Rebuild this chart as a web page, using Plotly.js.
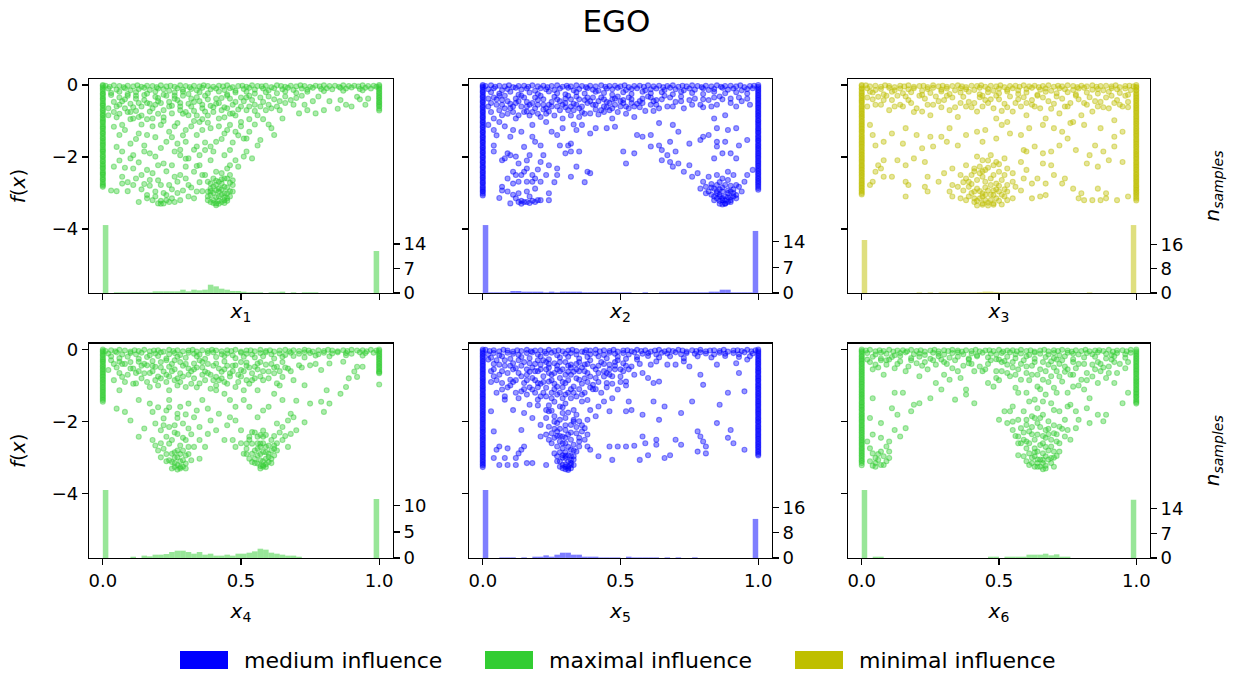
<!DOCTYPE html>
<html><head><meta charset="utf-8">
<script src="https://cdn.plot.ly/plotly-3.0.1.min.js"></script>
<style>body{margin:0;background:#fff}#chart{width:1233px;height:675px}</style>
</head><body><div id="chart"></div>
<script>
// ---------- labels ----------
const chartTitle = 'EGO';
const dimLabels = ['1','2','3','4','5','6'];
const influence = ['maximal','medium','minimal','maximal','medium','maximal'];
const legendNames = ['medium influence','maximal influence','minimal influence'];
const fTicks = [0, -2, -4];
const histTicks = [[0,7,14],[0,7,14],[0,8,16],[0,5,10],[0,8,16],[0,7,14]];

// ---------- histogram heights (50 bins on [0,1]) ----------
const h1 = [19.4,0,0.19,0.19,0.19,0.19,0.19,0.19,0.19,0.47,0.47,0.47,0.47,0.47,0.95,0.47,0.95,0.76,0.95,2.37,1.9,1.23,0.95,0.57,0.57,0.38,0.19,0.19,0.19,0,0.19,0.19,0.38,0,0.19,0,0.19,0.19,0.19,0,0,0,0,0,0,0,0,0,0,12.0];
const h2 = [18.5,0.18,0.18,0.18,0.18,0.54,0.54,0.36,0.36,0.36,0.36,0.18,0.36,0.18,0.36,0.36,0.36,0.36,0.18,0.18,0.18,0.18,0.18,0.18,0.18,0.18,0.18,0,0,0.18,0,0,0.18,0.18,0.18,0.18,0.18,0.18,0.18,0.18,0.18,0.36,0.36,0.9,0.9,0.18,0.18,0.18,0.18,16.9];
const h3 = [17.4,0,0,0,0,0,0,0,0,0,0.2,0,0.2,0,0.2,0.2,0.2,0.2,0.2,0.2,0.2,0.3,0.45,0.45,0.3,0.2,0.2,0.2,0.2,0.2,0.2,0.2,0.2,0.2,0.2,0.2,0.2,0.2,0,0,0,0.2,0,0,0,0,0,0,0,22.3];
const h4 = [13.05,0,0,0,0,0.25,0,0.45,0.32,0.64,0.64,0.76,1.15,1.4,1.4,1.15,0.83,1.15,0.64,0.83,0.45,0.45,0.64,0.45,0.83,0.83,1.02,1.27,1.78,1.6,1.02,0.83,0.64,0.45,0.45,0.25,0,0,0,0,0,0,0,0,0,0,0,0,0,11.3];
const h5 = [21.6,0,0,0.19,0.19,0.19,0,0.19,0,0.42,0.42,0.84,0.42,1.05,1.68,1.68,1.05,1.05,0.42,0.42,0.42,0.19,0.19,0.19,0.19,0,0.42,0.19,0.19,0.19,0.19,0.19,0,0.19,0,0.19,0,0,0.19,0,0,0,0,0,0,0,0,0,0,12.4];
const h6 = [19.4,0,0.38,0.38,0,0,0,0,0,0,0,0,0,0,0,0,0,0,0,0,0,0,0,0.38,0.38,0,0.38,0.38,0.38,0.38,0.95,0.95,0.95,1.23,0.76,1.04,0.38,0.38,0,0,0,0,0,0,0,0,0,0,0,16.6];

// ---------- samples on the bounds x=0 / x=1 (their f values) ----------
const colL1 = [0,-0.03,-0.08,-0.12,-0.17,-0.23,-0.26,-0.31,-0.37,-0.4,-0.45,-0.51,-0.55,-0.58,-0.64,-0.69,-0.72,-0.78,-0.83,-0.86,-0.92,-0.96,-1.01,-1.04,-1.1,-1.15,-1.19,-1.22,-1.28,-1.33,-1.36,-1.42,-1.47,-1.5,-1.56,-1.6,-1.65,-1.68,-1.74,-1.79,-1.83,-1.86,-1.92,-1.97,-2.0,-2.06,-2.11,-2.14,-2.2,-2.24,-2.29,-2.32,-2.38,-2.43,-2.47,-2.5,-2.56,-2.61,-2.64,-2.7,-2.75,-2.79,-2.83];
const colR1 = [0,-0.04,-0.09,-0.13,-0.19,-0.23,-0.28,-0.33,-0.37,-0.42,-0.47,-0.51,-0.56,-0.6,-0.66,-0.71];
const colL2 = [0,-0.04,-0.07,-0.13,-0.18,-0.21,-0.27,-0.32,-0.35,-0.41,-0.46,-0.49,-0.55,-0.6,-0.63,-0.69,-0.74,-0.77,-0.83,-0.88,-0.91,-0.97,-1.02,-1.05,-1.11,-1.16,-1.19,-1.25,-1.3,-1.33,-1.39,-1.44,-1.47,-1.53,-1.58,-1.61,-1.67,-1.72,-1.75,-1.81,-1.86,-1.89,-1.95,-2.0,-2.03,-2.09,-2.14,-2.17,-2.23,-2.28,-2.31,-2.37,-2.42,-2.45,-2.51,-2.56,-2.59,-2.65,-2.7,-2.73,-2.79,-2.84,-2.88,-2.93,-2.97,-3.02,-3.07];
const colR2 = [0,-0.05,-0.09,-0.14,-0.18,-0.23,-0.28,-0.32,-0.37,-0.41,-0.46,-0.51,-0.55,-0.6,-0.64,-0.69,-0.74,-0.78,-0.83,-0.87,-0.92,-0.97,-1.01,-1.06,-1.1,-1.15,-1.2,-1.24,-1.29,-1.33,-1.38,-1.43,-1.47,-1.52,-1.56,-1.61,-1.66,-1.7,-1.75,-1.79,-1.84,-1.89,-1.93,-1.98,-2.02,-2.07,-2.12,-2.16,-2.21,-2.25,-2.3,-2.35,-2.39,-2.44,-2.48,-2.53,-2.58,-2.62,-2.67,-2.71,-2.76,-2.81,-2.86,-2.91];
const colL3 = [0,-0.03,-0.09,-0.12,-0.18,-0.22,-0.27,-0.31,-0.36,-0.41,-0.45,-0.49,-0.54,-0.59,-0.63,-0.68,-0.72,-0.77,-0.81,-0.86,-0.9,-0.95,-1.0,-1.04,-1.09,-1.13,-1.18,-1.22,-1.27,-1.31,-1.36,-1.41,-1.45,-1.5,-1.54,-1.59,-1.63,-1.68,-1.72,-1.77,-1.82,-1.86,-1.91,-1.95,-2.0,-2.04,-2.09,-2.13,-2.18,-2.23,-2.27,-2.32,-2.36,-2.41,-2.45,-2.5,-2.54,-2.59,-2.64,-2.68,-2.73,-2.77,-2.82,-2.86,-2.91,-2.95,-3.0,-3.04];
const colR3 = [0,-0.05,-0.08,-0.14,-0.17,-0.23,-0.27,-0.32,-0.36,-0.41,-0.45,-0.5,-0.55,-0.59,-0.64,-0.68,-0.73,-0.77,-0.82,-0.87,-0.91,-0.96,-1.0,-1.05,-1.09,-1.14,-1.19,-1.23,-1.28,-1.32,-1.37,-1.41,-1.46,-1.51,-1.55,-1.6,-1.64,-1.69,-1.73,-1.78,-1.83,-1.87,-1.92,-1.96,-2.01,-2.05,-2.1,-2.15,-2.19,-2.24,-2.28,-2.33,-2.37,-2.42,-2.47,-2.51,-2.56,-2.6,-2.65,-2.69,-2.74,-2.79,-2.83,-2.88,-2.92,-2.97,-3.01,-3.06,-3.11,-3.16,-3.21];
const colL4 = [0,-0.04,-0.08,-0.13,-0.17,-0.22,-0.27,-0.31,-0.35,-0.4,-0.45,-0.49,-0.54,-0.58,-0.63,-0.67,-0.72,-0.76,-0.81,-0.85,-0.9,-0.94,-0.99,-1.04,-1.08,-1.13,-1.17,-1.22,-1.27,-1.31,-1.36,-1.4,-1.45];
const colR4 = [0,-0.04,-0.09,-0.14,-0.18,-0.23,-0.27,-0.32,-0.37,-0.41,-0.46,-0.5,-0.55,-0.6,-0.63,-0.66,-0.97];
const colL5 = [0,-0.04,-0.09,-0.13,-0.18,-0.22,-0.27,-0.32,-0.36,-0.41,-0.45,-0.5,-0.55,-0.59,-0.64,-0.68,-0.73,-0.78,-0.82,-0.87,-0.91,-0.96,-1.01,-1.05,-1.1,-1.14,-1.19,-1.24,-1.28,-1.33,-1.37,-1.42,-1.47,-1.51,-1.56,-1.6,-1.65,-1.7,-1.74,-1.79,-1.83,-1.88,-1.93,-1.97,-2.02,-2.06,-2.11,-2.16,-2.2,-2.25,-2.29,-2.34,-2.39,-2.43,-2.48,-2.52,-2.57,-2.62,-2.66,-2.71,-2.75,-2.8,-2.85,-2.89,-2.94,-2.98,-3.03,-3.08,-3.12,-3.17,-3.21,-3.26];
const colR5 = [0,-0.05,-0.09,-0.14,-0.18,-0.23,-0.28,-0.32,-0.37,-0.41,-0.46,-0.51,-0.55,-0.6,-0.64,-0.69,-0.74,-0.78,-0.83,-0.87,-0.92,-0.97,-1.01,-1.06,-1.1,-1.15,-1.2,-1.24,-1.29,-1.33,-1.38,-1.43,-1.47,-1.52,-1.56,-1.61,-1.66,-1.7,-1.75,-1.79,-1.84,-1.89,-1.93,-1.98,-2.02,-2.07,-2.12,-2.16,-2.21,-2.25,-2.3,-2.35,-2.39,-2.44,-2.48,-2.53,-2.58,-2.62,-2.67,-2.71,-2.76,-2.81,-2.85,-2.9,-2.94];
const colL6 = [0,-0.04,-0.08,-0.13,-0.18,-0.22,-0.27,-0.31,-0.36,-0.4,-0.45,-0.5,-0.54,-0.59,-0.63,-0.68,-0.72,-0.77,-0.82,-0.86,-0.91,-0.95,-1.0,-1.04,-1.09,-1.14,-1.18,-1.23,-1.27,-1.32,-1.36,-1.41,-1.46,-1.5,-1.55,-1.59,-1.64,-1.68,-1.73,-1.78,-1.82,-1.87,-1.91,-1.96,-2.0,-2.05,-2.1,-2.14,-2.19,-2.23,-2.28,-2.32,-2.37,-2.42,-2.46,-2.51,-2.55,-2.6,-2.64,-2.69,-2.74,-2.78,-2.83,-2.87,-2.92,-2.96,-3.01,-3.06,-3.1,-3.15,-3.21];
const colR6 = [0,-0.05,-0.09,-0.14,-0.18,-0.23,-0.27,-0.32,-0.36,-0.41,-0.46,-0.5,-0.55,-0.59,-0.64,-0.68,-0.73,-0.78,-0.82,-0.87,-0.91,-0.96,-1.0,-1.05,-1.1,-1.14,-1.19,-1.23,-1.28,-1.32,-1.37,-1.42,-1.46,-1.5];

// ---------- dense band of near-zero samples [x, f] ----------
const band1 = [[0.01,-0.02],[0.025,-0.05],[0.04,-0.01],[0.06,-0.03],[0.075,-0.06],[0.09,-0.02],[0.11,-0.04],[0.125,-0.01],[0.14,-0.05],[0.16,-0.02],[0.18,-0.03],[0.195,-0.06],[0.21,-0.01],[0.23,-0.04],[0.245,-0.02],[0.26,-0.05],[0.28,-0.01],[0.3,-0.03],[0.315,-0.06],[0.33,-0.02],[0.35,-0.04],[0.365,-0.01],[0.38,-0.03],[0.4,-0.05],[0.42,-0.02],[0.435,-0.04],[0.45,-0.01],[0.47,-0.06],[0.49,-0.03],[0.505,-0.02],[0.52,-0.05],[0.54,-0.01],[0.56,-0.03],[0.575,-0.04],[0.59,-0.02],[0.61,-0.06],[0.63,-0.01],[0.645,-0.03],[0.66,-0.05],[0.68,-0.02],[0.7,-0.04],[0.715,-0.01],[0.73,-0.03],[0.75,-0.05],[0.77,-0.02],[0.785,-0.04],[0.8,-0.01],[0.82,-0.03],[0.84,-0.02],[0.855,-0.05],[0.87,-0.01],[0.89,-0.03],[0.91,-0.02],[0.925,-0.04],[0.94,-0.01],[0.96,-0.03],[0.98,-0.02],[0.99,-0.05],
[0.02,-0.1],[0.05,-0.13],[0.08,-0.09],[0.1,-0.15],[0.13,-0.11],[0.15,-0.08],[0.17,-0.14],[0.2,-0.1],[0.22,-0.12],[0.24,-0.16],[0.27,-0.09],[0.29,-0.13],[0.32,-0.11],[0.34,-0.15],[0.36,-0.08],[0.39,-0.12],[0.41,-0.1],[0.44,-0.14],[0.46,-0.09],[0.48,-0.16],[0.51,-0.11],[0.53,-0.08],[0.55,-0.13],[0.58,-0.1],[0.6,-0.15],[0.62,-0.09],[0.65,-0.12],[0.67,-0.08],[0.69,-0.14],[0.72,-0.1],[0.74,-0.13],[0.76,-0.08],[0.79,-0.11],[0.81,-0.09],[0.83,-0.12],[0.86,-0.08],[0.88,-0.1],[0.9,-0.07],[0.93,-0.11],[0.95,-0.08],[0.97,-0.1],
[0.03,-0.22],[0.06,-0.19],[0.09,-0.25],[0.12,-0.2],[0.16,-0.24],[0.19,-0.18],[0.22,-0.27],[0.26,-0.21],[0.29,-0.19],[0.31,-0.25],[0.35,-0.2],[0.38,-0.23],[0.42,-0.18],[0.45,-0.26],[0.48,-0.21],[0.52,-0.19],[0.55,-0.24],[0.59,-0.2],[0.63,-0.23],[0.66,-0.18],[0.7,-0.22],[0.74,-0.19],[0.8,-0.17],[0.87,-0.16],[0.94,-0.15]];
const band2 = [[0.01,-0.03],[0.03,-0.01],[0.045,-0.05],[0.06,-0.02],[0.08,-0.04],[0.095,-0.01],[0.11,-0.06],[0.13,-0.03],[0.15,-0.02],[0.165,-0.05],[0.18,-0.01],[0.2,-0.04],[0.22,-0.02],[0.235,-0.06],[0.25,-0.03],[0.27,-0.01],[0.29,-0.05],[0.305,-0.02],[0.32,-0.04],[0.34,-0.01],[0.36,-0.03],[0.375,-0.06],[0.39,-0.02],[0.41,-0.04],[0.43,-0.01],[0.445,-0.05],[0.46,-0.03],[0.48,-0.02],[0.5,-0.04],[0.515,-0.01],[0.53,-0.06],[0.55,-0.03],[0.57,-0.02],[0.585,-0.05],[0.6,-0.01],[0.62,-0.04],[0.64,-0.02],[0.655,-0.06],[0.67,-0.03],[0.69,-0.01],[0.71,-0.05],[0.725,-0.02],[0.74,-0.04],[0.76,-0.01],[0.78,-0.03],[0.795,-0.06],[0.81,-0.02],[0.83,-0.04],[0.85,-0.01],[0.865,-0.05],[0.88,-0.03],[0.9,-0.02],[0.92,-0.04],[0.935,-0.01],[0.95,-0.06],[0.97,-0.03],[0.985,-0.02],
[0.02,-0.12],[0.04,-0.09],[0.07,-0.15],[0.09,-0.11],[0.12,-0.08],[0.14,-0.13],[0.16,-0.1],[0.19,-0.16],[0.21,-0.09],[0.23,-0.12],[0.26,-0.14],[0.28,-0.1],[0.31,-0.08],[0.33,-0.15],[0.35,-0.11],[0.38,-0.09],[0.4,-0.13],[0.42,-0.16],[0.45,-0.1],[0.47,-0.12],[0.49,-0.08],[0.52,-0.14],[0.54,-0.11],[0.56,-0.09],[0.59,-0.15],[0.61,-0.12],[0.63,-0.1],[0.66,-0.14],[0.68,-0.08],[0.7,-0.12],[0.73,-0.15],[0.75,-0.1],[0.77,-0.13],[0.8,-0.09],[0.82,-0.14],[0.84,-0.11],[0.87,-0.08],[0.89,-0.13],[0.91,-0.1],[0.94,-0.15],[0.96,-0.11],[0.98,-0.09],
[0.03,-0.2],[0.06,-0.24],[0.1,-0.19],[0.13,-0.27],[0.17,-0.21],[0.2,-0.25],[0.24,-0.18],[0.27,-0.23],[0.3,-0.26],[0.34,-0.2],[0.37,-0.24],[0.41,-0.19],[0.44,-0.22],[0.47,-0.27],[0.51,-0.2],[0.54,-0.25],[0.58,-0.19],[0.61,-0.23],[0.65,-0.2],[0.69,-0.26],[0.72,-0.19],[0.76,-0.22],[0.8,-0.25],[0.84,-0.19],[0.88,-0.23],[0.92,-0.2],[0.96,-0.24]];
const band3 = [[0.015,-0.01],[0.03,-0.04],[0.05,-0.02],[0.07,-0.05],[0.085,-0.01],[0.1,-0.03],[0.12,-0.06],[0.14,-0.02],[0.155,-0.04],[0.17,-0.01],[0.19,-0.05],[0.21,-0.03],[0.225,-0.02],[0.24,-0.06],[0.26,-0.01],[0.28,-0.04],[0.295,-0.02],[0.31,-0.05],[0.33,-0.03],[0.35,-0.01],[0.365,-0.04],[0.38,-0.06],[0.4,-0.02],[0.42,-0.03],[0.435,-0.01],[0.45,-0.05],[0.47,-0.02],[0.49,-0.04],[0.505,-0.01],[0.52,-0.06],[0.54,-0.03],[0.56,-0.02],[0.575,-0.05],[0.59,-0.01],[0.61,-0.04],[0.63,-0.02],[0.645,-0.06],[0.66,-0.03],[0.68,-0.01],[0.7,-0.05],[0.715,-0.02],[0.73,-0.04],[0.75,-0.01],[0.77,-0.03],[0.785,-0.06],[0.8,-0.02],[0.82,-0.04],[0.84,-0.01],[0.855,-0.05],[0.87,-0.03],[0.89,-0.02],[0.91,-0.04],[0.925,-0.01],[0.94,-0.06],[0.96,-0.03],[0.975,-0.02],[0.99,-0.04],
[0.02,-0.09],[0.05,-0.14],[0.07,-0.11],[0.1,-0.08],[0.12,-0.15],[0.14,-0.1],[0.17,-0.12],[0.19,-0.09],[0.22,-0.16],[0.24,-0.11],[0.26,-0.08],[0.29,-0.13],[0.31,-0.1],[0.34,-0.15],[0.36,-0.09],[0.38,-0.12],[0.41,-0.14],[0.43,-0.08],[0.46,-0.11],[0.48,-0.16],[0.5,-0.1],[0.53,-0.13],[0.55,-0.09],[0.57,-0.15],[0.6,-0.11],[0.62,-0.08],[0.65,-0.13],[0.67,-0.1],[0.69,-0.16],[0.72,-0.09],[0.74,-0.12],[0.77,-0.14],[0.79,-0.1],[0.81,-0.08],[0.84,-0.13],[0.86,-0.11],[0.88,-0.15],[0.91,-0.09],[0.93,-0.12],[0.96,-0.1],[0.98,-0.14],
[0.04,-0.21],[0.08,-0.26],[0.11,-0.19],[0.15,-0.23],[0.18,-0.2],[0.22,-0.27],[0.25,-0.22],[0.29,-0.18],[0.32,-0.25],[0.36,-0.21],[0.39,-0.19],[0.43,-0.26],[0.46,-0.2],[0.5,-0.23],[0.53,-0.18],[0.57,-0.25],[0.6,-0.21],[0.64,-0.27],[0.67,-0.19],[0.71,-0.23],[0.75,-0.2],[0.78,-0.26],[0.82,-0.21],[0.86,-0.24],[0.9,-0.19],[0.94,-0.22],[0.97,-0.27]];
const band4 = [[0.01,-0.04],[0.03,-0.02],[0.045,-0.05],[0.06,-0.01],[0.08,-0.03],[0.1,-0.06],[0.115,-0.02],[0.13,-0.04],[0.15,-0.01],[0.17,-0.05],[0.185,-0.03],[0.2,-0.02],[0.22,-0.06],[0.24,-0.01],[0.255,-0.04],[0.27,-0.02],[0.29,-0.05],[0.31,-0.03],[0.325,-0.01],[0.34,-0.06],[0.36,-0.02],[0.38,-0.04],[0.395,-0.01],[0.41,-0.03],[0.43,-0.05],[0.45,-0.02],[0.465,-0.04],[0.48,-0.01],[0.5,-0.06],[0.52,-0.03],[0.535,-0.02],[0.55,-0.05],[0.57,-0.01],[0.59,-0.04],[0.605,-0.02],[0.62,-0.06],[0.64,-0.03],[0.66,-0.01],[0.675,-0.05],[0.69,-0.02],[0.71,-0.04],[0.73,-0.01],[0.745,-0.03],[0.76,-0.06],[0.78,-0.02],[0.8,-0.04],[0.815,-0.01],[0.83,-0.03],[0.85,-0.05],[0.87,-0.02],[0.885,-0.04],[0.9,-0.01],[0.92,-0.03],[0.94,-0.02],[0.955,-0.05],[0.97,-0.01],[0.99,-0.03],
[0.02,-0.11],[0.05,-0.08],[0.07,-0.14],[0.1,-0.1],[0.12,-0.13],[0.14,-0.09],[0.17,-0.16],[0.19,-0.11],[0.21,-0.08],[0.24,-0.13],[0.26,-0.1],[0.28,-0.15],[0.31,-0.09],[0.33,-0.12],[0.35,-0.14],[0.38,-0.1],[0.4,-0.08],[0.43,-0.13],[0.45,-0.11],[0.47,-0.16],[0.5,-0.09],[0.52,-0.12],[0.54,-0.14],[0.57,-0.1],[0.59,-0.08],[0.61,-0.13],[0.64,-0.11],[0.66,-0.15],[0.68,-0.09],[0.71,-0.12],[0.73,-0.08],[0.75,-0.1],[0.78,-0.13],[0.8,-0.09],[0.83,-0.11],[0.85,-0.08],[0.88,-0.1],[0.9,-0.12],[0.93,-0.08],[0.95,-0.1],[0.98,-0.09],
[0.03,-0.19],[0.06,-0.24],[0.09,-0.2],[0.13,-0.26],[0.16,-0.21],[0.2,-0.18],[0.23,-0.25],[0.27,-0.2],[0.3,-0.23],[0.34,-0.19],[0.37,-0.26],[0.41,-0.21],[0.44,-0.18],[0.48,-0.24],[0.51,-0.2],[0.55,-0.22],[0.58,-0.19],[0.62,-0.25],[0.65,-0.2],[0.69,-0.18],[0.73,-0.22],[0.77,-0.17],[0.82,-0.19],[0.88,-0.16],[0.94,-0.17]];
const band5 = [[0.01,-0.01],[0.025,-0.04],[0.04,-0.02],[0.06,-0.05],[0.075,-0.01],[0.09,-0.03],[0.11,-0.06],[0.125,-0.02],[0.14,-0.04],[0.16,-0.01],[0.175,-0.05],[0.19,-0.03],[0.21,-0.02],[0.225,-0.06],[0.24,-0.01],[0.26,-0.04],[0.275,-0.02],[0.29,-0.05],[0.31,-0.03],[0.325,-0.01],[0.34,-0.04],[0.36,-0.06],[0.375,-0.02],[0.39,-0.03],[0.41,-0.01],[0.425,-0.05],[0.44,-0.02],[0.46,-0.04],[0.475,-0.01],[0.49,-0.06],[0.51,-0.03],[0.525,-0.02],[0.54,-0.05],[0.56,-0.01],[0.575,-0.04],[0.59,-0.02],[0.61,-0.06],[0.625,-0.03],[0.64,-0.01],[0.66,-0.05],[0.675,-0.02],[0.69,-0.04],[0.71,-0.01],[0.725,-0.03],[0.74,-0.06],[0.76,-0.02],[0.775,-0.04],[0.79,-0.01],[0.81,-0.05],[0.825,-0.03],[0.84,-0.02],[0.86,-0.04],[0.875,-0.01],[0.89,-0.06],[0.91,-0.03],[0.925,-0.02],[0.94,-0.04],[0.96,-0.01],[0.975,-0.05],[0.99,-0.02],
[0.02,-0.13],[0.04,-0.1],[0.06,-0.16],[0.09,-0.09],[0.11,-0.12],[0.13,-0.15],[0.16,-0.1],[0.18,-0.08],[0.2,-0.14],[0.23,-0.11],[0.25,-0.09],[0.27,-0.16],[0.3,-0.12],[0.32,-0.1],[0.34,-0.14],[0.37,-0.08],[0.39,-0.13],[0.41,-0.11],[0.44,-0.15],[0.46,-0.09],[0.48,-0.12],[0.51,-0.1],[0.53,-0.14],[0.55,-0.08],[0.58,-0.12],[0.6,-0.1],[0.63,-0.14],[0.65,-0.09],[0.67,-0.11],[0.7,-0.08],[0.72,-0.13],[0.74,-0.1],[0.77,-0.12],[0.79,-0.08],[0.81,-0.11],[0.84,-0.14],[0.86,-0.09],[0.88,-0.12],[0.91,-0.1],[0.93,-0.13],[0.95,-0.08],[0.98,-0.11],
[0.03,-0.23],[0.07,-0.19],[0.1,-0.26],[0.14,-0.21],[0.17,-0.24],[0.21,-0.19],[0.24,-0.27],[0.28,-0.22],[0.31,-0.2],[0.35,-0.25],[0.38,-0.21],[0.42,-0.19],[0.45,-0.24],[0.49,-0.2],[0.52,-0.26],[0.56,-0.21],[0.6,-0.18],[0.64,-0.22],[0.68,-0.19],[0.73,-0.24],[0.78,-0.19],[0.83,-0.22],[0.88,-0.18],[0.93,-0.21],[0.97,-0.19]];
const band6 = [[0.015,-0.03],[0.03,-0.01],[0.05,-0.05],[0.065,-0.02],[0.08,-0.04],[0.1,-0.01],[0.115,-0.06],[0.13,-0.03],[0.15,-0.02],[0.165,-0.05],[0.18,-0.01],[0.2,-0.04],[0.215,-0.02],[0.23,-0.06],[0.25,-0.03],[0.265,-0.01],[0.28,-0.05],[0.3,-0.02],[0.315,-0.04],[0.33,-0.01],[0.35,-0.03],[0.365,-0.06],[0.38,-0.02],[0.4,-0.04],[0.415,-0.01],[0.43,-0.05],[0.45,-0.03],[0.465,-0.02],[0.48,-0.04],[0.5,-0.01],[0.515,-0.06],[0.53,-0.03],[0.55,-0.02],[0.565,-0.05],[0.58,-0.01],[0.6,-0.04],[0.615,-0.02],[0.63,-0.06],[0.65,-0.03],[0.665,-0.01],[0.68,-0.05],[0.7,-0.02],[0.715,-0.04],[0.73,-0.01],[0.75,-0.03],[0.765,-0.06],[0.78,-0.02],[0.8,-0.04],[0.815,-0.01],[0.83,-0.05],[0.85,-0.03],[0.865,-0.02],[0.88,-0.04],[0.9,-0.01],[0.915,-0.06],[0.93,-0.03],[0.95,-0.02],[0.965,-0.05],[0.98,-0.01],
[0.02,-0.1],[0.05,-0.14],[0.07,-0.09],[0.09,-0.12],[0.12,-0.16],[0.14,-0.1],[0.16,-0.08],[0.19,-0.13],[0.21,-0.11],[0.23,-0.15],[0.26,-0.09],[0.28,-0.12],[0.3,-0.14],[0.33,-0.1],[0.35,-0.08],[0.37,-0.13],[0.4,-0.11],[0.42,-0.16],[0.44,-0.09],[0.47,-0.12],[0.49,-0.14],[0.51,-0.1],[0.54,-0.08],[0.56,-0.13],[0.58,-0.11],[0.61,-0.15],[0.63,-0.09],[0.65,-0.12],[0.68,-0.14],[0.7,-0.1],[0.72,-0.16],[0.75,-0.09],[0.77,-0.12],[0.79,-0.14],[0.82,-0.1],[0.84,-0.13],[0.86,-0.08],[0.89,-0.12],[0.91,-0.15],[0.93,-0.1],[0.96,-0.13],[0.98,-0.09],
[0.04,-0.2],[0.07,-0.25],[0.11,-0.21],[0.14,-0.18],[0.18,-0.24],[0.21,-0.2],[0.25,-0.26],[0.28,-0.19],[0.32,-0.23],[0.35,-0.2],[0.39,-0.25],[0.42,-0.19],[0.46,-0.22],[0.49,-0.27],[0.53,-0.2],[0.56,-0.24],[0.6,-0.19],[0.63,-0.26],[0.67,-0.21],[0.7,-0.24],[0.74,-0.19],[0.77,-0.27],[0.81,-0.22],[0.85,-0.2],[0.89,-0.25],[0.92,-0.19],[0.96,-0.23]];

// ---------- remaining samples [x, f] ----------
const pts1 = [[0.04,-0.47],[0.1,-0.52],[0.15,-0.42],[0.19,-0.55],[0.24,-0.47],[0.28,-0.6],[0.33,-0.47],[0.36,-0.65],[0.41,-0.52],[0.45,-0.65],[0.48,-0.47],[0.53,-0.6],[0.58,-0.47],[0.63,-0.6],[0.68,-0.42],[0.73,-0.55],[0.17,-0.74],[0.25,-0.79],[0.31,-0.84],[0.37,-0.74],[0.47,-0.79],[0.56,-0.84],[0.59,-0.7],
[0.85,-0.66],[0.86,-0.42],[0.88,-0.55],[0.92,-0.33],[0.95,-0.55],[0.96,-0.38],[0.77,-0.79],[0.8,-0.7],[0.71,-0.79],[0.65,-0.93],[0.61,-1.2],[0.62,-1.39],[0.57,-1.53],[0.56,-1.68],[0.52,-1.49],[0.54,-2.04],
[0.02,-0.65],[0.02,-0.84],[0.04,-1.16],[0.06,-1.39],[0.07,-1.85],[0.04,-2.27],[0.07,-2.55],[0.07,-2.74],[0.03,-2.93],[0.05,-2.95],[0.11,-2.78],[0.11,-1.95],[0.13,-1.35],[0.13,-3.25],[0.16,-3.06],[0.16,-2.36],[0.17,-2.64],[0.19,-2.96],[0.2,-3.29],[0.21,-3.22],[0.22,-3.29],[0.24,-3.25],[0.25,-3.15],[0.23,-3.06],[0.21,-2.78],[0.24,-2.78],[0.27,-2.69],[0.29,-2.93],[0.28,-2.5],[0.31,-3.1],[0.34,-2.96],[0.31,-2.78],[0.33,-2.41],[0.35,-2.23],[0.36,-2.5],[0.35,-1.95],[0.31,-2.04],[0.28,-1.95],[0.25,-2.23],[0.22,-2.18],[0.19,-1.99],[0.2,-2.23],[0.23,-1.58],[0.27,-1.63],[0.3,-1.58],[0.34,-1.71],[0.37,-1.81],[0.39,-1.71],[0.41,-1.58],[0.44,-1.95],[0.46,-1.81],[0.48,-2.09],[0.51,-1.99],[0.49,-2.27],[0.46,-2.23],[0.52,-1.85],[0.51,-1.49],[0.48,-1.3],[0.5,-1.03],[0.46,-1.11],[0.42,-0.93],[0.44,-1.35],[0.39,-1.2],[0.35,-1.03],[0.34,-1.39],[0.3,-1.25],[0.27,-1.06],[0.24,-1.3],[0.21,-1.11],[0.18,-0.93],[0.16,-1.39],[0.13,-0.89],[0.11,-0.93],[0.08,-0.65],[0.07,-1.11],[0.1,-1.63],[0.15,-1.68],[0.17,-1.9],[0.26,-1.85],[0.3,-2.27],[0.39,-2.09],[0.41,-2.41],[0.11,-2.32],[0.14,-2.5],[0.1,-2.04],[0.05,-1.72],
[0.37,-2.5],[0.38,-2.69],[0.39,-2.88],[0.39,-3.06],[0.4,-3.2],[0.41,-2.78],[0.42,-2.96],[0.42,-3.1],[0.43,-3.25],[0.44,-2.6],[0.44,-2.83],[0.45,-3.01],[0.45,-3.15],[0.46,-2.5],[0.47,-2.78],[0.47,-2.96],[0.41,-3.29],[0.39,-3.25],[0.38,-3.1],[0.43,-2.45],[0.45,-2.32],[0.4,-2.6],[0.42,-2.69],[0.41,-2.93],[0.44,-3.01],[0.38,-2.96],[0.46,-3.1],[0.42,-2.88],[0.44,-3.2],[0.41,-3.34],[0.39,-2.74],[0.43,-2.74],
[0.4,-3.0],[0.41,-3.12],[0.42,-3.22],[0.43,-3.05],[0.43,-2.9],[0.44,-3.12],[0.45,-2.85],[0.46,-2.95],[0.4,-2.82],[0.39,-2.95],[0.42,-3.3],[0.44,-3.28],[0.4,-3.28],[0.46,-2.72],[0.45,-2.6],[0.43,-2.62],[0.41,-2.66],[0.47,-2.65],[0.38,-3.2],[0.45,-3.22],
[0.06,-0.35],[0.09,-0.75],[0.12,-0.38],[0.14,-0.6],[0.2,-0.36],[0.22,-0.7],[0.26,-0.38],[0.29,-0.8],[0.32,-0.6],[0.34,-0.34],[0.38,-0.85],[0.4,-0.62],[0.43,-0.36],[0.46,-0.8],[0.5,-0.6],[0.52,-0.35],[0.55,-0.55],[0.6,-0.32],[0.64,-0.7],[0.66,-0.5],[0.7,-0.36],[0.74,-0.7],[0.78,-0.32],[0.82,-0.45],[0.9,-0.6],[0.93,-0.4],[0.05,-0.9],[0.16,-0.95],[0.33,-1.0],[0.53,-0.95],
[0.06,-2.1],[0.09,-2.7],[0.14,-2.9],[0.18,-3.2],[0.19,-3.1],[0.21,-3.3],[0.23,-3.2],[0.26,-3.25],[0.27,-3.0],[0.17,-2.8],
[0.03,-0.28],[0.05,-0.6],[0.07,-0.45],[0.09,-0.3],[0.11,-0.62],[0.13,-0.5],[0.15,-0.28],[0.17,-0.52],[0.19,-0.33],[0.21,-0.5],[0.23,-0.3],[0.25,-0.58],[0.27,-0.42],[0.29,-0.3],[0.31,-0.52],[0.33,-0.72],[0.35,-0.45],[0.37,-0.3],[0.39,-0.58],[0.41,-0.38],[0.43,-0.7],[0.45,-0.3],[0.47,-0.55],[0.49,-0.68],[0.51,-0.45],[0.53,-0.3],[0.55,-0.72],[0.57,-0.6],[0.6,-0.55],[0.62,-0.4],[0.66,-0.32],[0.69,-0.55],[0.72,-0.3],[0.76,-0.45],[0.12,-0.72],[0.2,-0.8],[0.28,-0.7],[0.36,-0.95],[0.44,-0.9],[0.52,-0.7],
[0.06,-0.8],[0.08,-1.25],[0.1,-0.95],[0.12,-1.5],[0.14,-1.1],[0.15,-1.85],[0.18,-1.15],[0.19,-1.45],[0.21,-1.75],[0.22,-1.0],[0.25,-1.45],[0.26,-1.15],[0.28,-1.8],[0.29,-1.4],[0.32,-1.15],[0.33,-1.8],[0.36,-1.25],[0.37,-1.6],[0.38,-1.05],[0.4,-1.85],[0.42,-1.15],[0.43,-1.5],[0.45,-1.25],[0.47,-1.6],[0.49,-1.4],[0.5,-1.15],[0.53,-1.3],[0.55,-1.1],[0.58,-0.95],[0.6,-1.1],
[0.08,-2.3],[0.09,-2.95],[0.12,-2.6],[0.13,-2.15],[0.15,-2.75],[0.16,-3.15],[0.18,-2.45],[0.2,-2.65],[0.22,-3.0],[0.23,-2.4],[0.25,-2.9],[0.26,-2.55],[0.28,-3.2],[0.3,-2.6],[0.32,-2.85],[0.33,-3.15],[0.35,-2.7],[0.36,-2.95],[0.34,-2.25],[0.3,-2.05],
[0.04,-0.75],[0.06,-0.55],[0.08,-0.4],[0.1,-0.75],[0.12,-0.3],[0.14,-0.85],[0.16,-0.5],[0.18,-0.65],[0.2,-0.45],[0.22,-0.9],[0.24,-0.6],[0.26,-0.3],[0.28,-0.5],[0.3,-0.75],[0.32,-0.38],[0.34,-0.85],[0.36,-0.55],[0.38,-0.4],[0.4,-0.75],[0.42,-0.5],[0.44,-0.62],[0.46,-0.38],[0.48,-0.85],[0.5,-0.35],[0.54,-0.42],[0.57,-0.35],[0.61,-0.65],[0.64,-0.45]];
const pts2 = [[0.02,-0.38],[0.05,-0.55],[0.07,-0.42],[0.08,-0.65],[0.1,-0.52],[0.12,-0.38],[0.14,-0.6],[0.16,-0.74],[0.16,-0.47],[0.19,-0.65],[0.2,-0.42],[0.22,-0.55],[0.24,-0.74],[0.25,-0.47],[0.27,-0.6],[0.3,-0.38],[0.31,-0.7],[0.33,-0.52],[0.35,-0.65],[0.37,-0.42],[0.39,-0.79],[0.41,-0.55],[0.43,-0.7],[0.45,-0.47],[0.47,-0.65],[0.48,-0.55],[0.51,-0.42],[0.53,-0.65],[0.56,-0.52],[0.58,-0.38],[0.61,-0.55],[0.63,-0.42],[0.67,-0.6],[0.7,-0.47],[0.73,-0.65],[0.75,-0.42],[0.79,-0.55],[0.82,-0.42],[0.85,-0.55],[0.9,-0.38],[0.92,-0.6],[0.96,-0.38],[0.21,-0.89],[0.29,-0.93],[0.35,-0.89],[0.04,-0.93],[0.13,-0.84],[0.44,-0.6],[0.32,-0.6],[0.23,-0.65],
[0.03,-0.5],[0.06,-0.3],[0.09,-0.8],[0.11,-0.6],[0.15,-0.35],[0.17,-0.85],[0.18,-0.5],[0.21,-0.3],[0.23,-0.8],[0.26,-0.33],[0.28,-0.7],[0.3,-0.5],[0.32,-0.85],[0.34,-0.32],[0.36,-0.6],[0.38,-0.5],[0.4,-0.35],[0.42,-0.82],[0.44,-0.4],[0.46,-0.7],[0.49,-0.32],[0.5,-0.6],[0.52,-0.8],[0.54,-0.4],[0.57,-0.62],[0.6,-0.32],[0.62,-0.72],[0.65,-0.4],[0.68,-0.35],[0.72,-0.32],[0.77,-0.38],[0.8,-0.62],[0.84,-0.35],[0.87,-0.4],[0.94,-0.45],[0.97,-0.55],
[0.02,-0.6],[0.04,-0.35],[0.06,-0.7],[0.08,-0.3],[0.1,-0.65],[0.12,-0.5],[0.14,-0.3],[0.15,-0.75],[0.17,-0.55],[0.19,-0.35],[0.2,-0.8],[0.22,-0.4],[0.24,-0.55],[0.26,-0.85],[0.28,-0.45],[0.3,-0.62],[0.31,-0.3],[0.33,-0.7],[0.35,-0.4],[0.37,-0.8],[0.39,-0.45],[0.41,-0.68],[0.43,-0.35],[0.45,-0.62],[0.47,-0.4],[0.49,-0.75],[0.51,-0.5],[0.53,-0.35],[0.55,-0.6],[0.57,-0.45],[0.59,-0.72],[0.61,-0.35],[0.63,-0.55],[0.66,-0.3],[0.69,-0.6],[0.72,-0.45],[0.76,-0.55],[0.8,-0.4],[0.83,-0.6],[0.86,-0.32],[0.9,-0.5],[0.93,-0.35],
[0.03,-0.75],[0.05,-0.4],[0.07,-0.55],[0.09,-0.45],[0.11,-0.75],[0.13,-0.45],[0.16,-0.6],[0.18,-0.75],[0.2,-0.55],[0.22,-0.68],[0.25,-0.6],[0.27,-0.4],[0.29,-0.55],[0.32,-0.4],[0.34,-0.55],[0.36,-0.75],[0.38,-0.35],[0.4,-0.55],[0.42,-0.45],[0.44,-0.75],[0.46,-0.5],[0.48,-0.38],[0.5,-0.45],[0.52,-0.6],[0.54,-0.5],[0.58,-0.5],[0.62,-0.45],[0.64,-0.65],
[0.04,-1.68],[0.04,-1.85],[0.07,-2.09],[0.08,-2.04],[0.1,-1.95],[0.12,-1.99],[0.13,-2.18],[0.11,-2.41],[0.12,-2.5],[0.15,-2.41],[0.16,-2.32],[0.18,-2.5],[0.19,-2.6],[0.18,-2.69],[0.16,-2.69],[0.13,-2.69],[0.11,-2.74],[0.07,-2.83],[0.07,-2.93],[0.09,-2.96],[0.06,-3.14],[0.1,-3.29],[0.13,-3.25],[0.14,-3.22],[0.15,-3.25],[0.16,-3.25],[0.18,-3.22],[0.19,-3.25],[0.13,-3.01],[0.16,-2.96],[0.21,-2.14],[0.24,-2.23],[0.23,-2.5],[0.21,-2.69],[0.24,-3.01],[0.21,-3.2],[0.24,-3.2],[0.27,-2.32],[0.27,-2.5],[0.32,-1.85],[0.31,-1.68],[0.34,-2.27],[0.37,-2.7],[0.38,-2.41],[0.39,-2.45],[0.32,-2.55],[0.19,-2.88],[0.17,-1.95],[0.15,-1.72],[0.18,-1.44],[0.19,-1.58],[0.21,-1.68],[0.28,-1.68],[0.32,-1.63],[0.35,-1.85],[0.11,-1.25],[0.1,-1.44],[0.04,-1.25],[0.02,-1.11],[0.06,-1.03],[0.07,-0.84],[0.12,-0.93],[0.18,-1.11],[0.23,-1.03],[0.27,-1.39],[0.29,-1.2],[0.34,-1.25],[0.36,-1.11],[0.39,-1.35],[0.41,-1.2],[0.45,-1.2],[0.48,-1.16],[0.47,-0.93],[0.55,-0.89],
[0.14,-3.3],[0.17,-3.28],[0.12,-3.15],[0.2,-3.2],
[0.05,-1.4],[0.08,-1.15],[0.09,-1.9],[0.14,-1.3],[0.16,-2.1],[0.2,-2.35],[0.22,-1.95],[0.25,-1.3],[0.26,-2.7],[0.3,-1.9],[0.33,-1.1],[0.09,-2.6],[0.14,-2.5],[0.17,-3.1],[0.11,-3.05],
[0.51,-1.85],[0.52,-2.18],[0.55,-1.9],[0.56,-1.39],[0.58,-1.44],[0.61,-1.39],[0.61,-1.71],[0.64,-1.06],[0.69,-1.11],[0.71,-1.3],[0.64,-1.68],[0.65,-1.81],[0.67,-1.95],[0.68,-2.14],[0.65,-2.09],[0.69,-2.27],[0.71,-2.18],[0.73,-2.41],[0.75,-2.23],[0.76,-2.55],[0.78,-2.45],[0.68,-1.58],[0.7,-1.85],[0.75,-1.63],[0.79,-1.53],[0.8,-1.44],[0.82,-1.39],[0.84,-0.93],[0.85,-1.2],[0.85,-1.58],[0.84,-2.04],[0.85,-1.71],[0.87,-1.9],[0.88,-0.84],[0.88,-1.58],[0.89,-1.25],[0.9,-1.9],[0.92,-1.2],[0.92,-2.04],[0.93,-1.68],[0.96,-1.53],[0.96,-2.5],[0.95,-2.69],[0.93,-2.83],[0.98,-2.36],[0.91,-2.5],[0.89,-2.41],[0.85,-2.5],[0.82,-2.55],[0.8,-2.69],[0.79,-2.88],[0.81,-2.83],
[0.82,-2.96],[0.84,-2.88],[0.85,-3.01],[0.86,-3.1],[0.87,-3.2],[0.89,-3.25],[0.9,-3.2],[0.91,-3.1],[0.92,-3.06],[0.87,-2.96],[0.89,-2.93],[0.85,-2.78],[0.88,-2.78],[0.9,-2.96],[0.87,-3.15],[0.84,-3.1],[0.81,-3.01],[0.88,-3.29],[0.89,-2.64],[0.87,-2.6],[0.92,-2.78],[0.94,-2.96],
[0.83,-3.05],[0.85,-3.15],[0.86,-3.22],[0.88,-3.1],[0.89,-3.0],[0.9,-3.12],[0.86,-2.9],[0.88,-3.3],[0.87,-3.32],[0.91,-2.9],[0.83,-2.85],[0.86,-3.3],
[0.84,-3.2],[0.86,-3.05],[0.87,-2.85],[0.88,-3.2],[0.89,-3.12],[0.9,-3.25],[0.91,-3.0],[0.85,-2.95],[0.83,-2.75],[0.9,-2.8],[0.92,-3.15],[0.86,-2.7]];
const pts3 = [[0.03,-0.19],[0.06,-0.33],[0.02,-0.6],[0.07,-0.55],[0.11,-0.42],[0.14,-0.55],[0.17,-0.42],[0.2,-0.65],[0.22,-0.74],[0.25,-0.84],[0.26,-0.55],[0.3,-0.42],[0.32,-0.7],[0.35,-0.89],[0.38,-0.6],[0.39,-0.47],[0.42,-0.74],[0.44,-0.6],[0.45,-0.42],[0.48,-0.65],[0.49,-0.93],[0.52,-0.52],[0.53,-1.03],[0.55,-0.74],[0.58,-0.6],[0.6,-0.84],[0.62,-0.42],[0.65,-0.65],[0.67,-0.93],[0.7,-0.52],[0.72,-0.79],[0.75,-0.6],[0.77,-1.03],[0.8,-0.84],[0.82,-0.55],[0.84,-0.74],[0.87,-0.47],[0.9,-0.65],[0.93,-0.42],[0.95,-0.6],[0.97,-0.47],[0.92,-0.98],[0.66,-1.11],[0.7,-1.2],[0.73,-1.3],[0.76,-1.06],[0.81,-1.11],[0.87,-1.2],[0.95,-1.3],[0.92,-1.44],
[0.04,-0.4],[0.09,-0.3],[0.12,-0.6],[0.16,-0.32],[0.19,-0.75],[0.23,-0.38],[0.27,-0.32],[0.29,-0.62],[0.33,-0.35],[0.36,-0.5],[0.4,-0.62],[0.43,-0.34],[0.46,-0.5],[0.5,-0.4],[0.51,-0.72],[0.54,-0.32],[0.57,-0.4],[0.6,-0.5],[0.63,-0.6],[0.66,-0.35],[0.69,-0.66],[0.73,-0.38],[0.76,-0.5],[0.79,-0.4],[0.83,-0.34],[0.86,-0.6],[0.89,-0.35],[0.92,-0.5],[0.96,-0.3],
[0.02,-0.35],[0.05,-0.55],[0.08,-0.42],[0.1,-0.7],[0.13,-0.3],[0.15,-0.6],[0.18,-0.5],[0.21,-0.3],[0.24,-0.55],[0.28,-0.45],[0.31,-0.3],[0.34,-0.62],[0.37,-0.33],[0.41,-0.5],[0.44,-0.3],[0.47,-0.4],[0.49,-0.3],[0.53,-0.62],[0.56,-0.5],[0.59,-0.34],[0.62,-0.55],[0.64,-0.3],[0.68,-0.45],[0.71,-0.32],[0.74,-0.6],[0.78,-0.3],[0.81,-0.5],[0.85,-0.45],[0.88,-0.62],[0.91,-0.3],[0.94,-0.55],[0.97,-0.62],
[0.03,-1.11],[0.04,-1.39],[0.08,-1.58],[0.05,-1.68],[0.11,-1.35],[0.15,-1.63],[0.16,-1.2],[0.2,-1.39],[0.22,-1.76],[0.25,-1.44],[0.26,-1.71],[0.29,-1.44],[0.31,-1.58],[0.32,-1.2],[0.35,-1.68],[0.38,-1.39],[0.42,-1.3],[0.44,-1.58],[0.45,-1.25],[0.49,-1.49],[0.51,-1.11],[0.54,-1.35],[0.58,-1.39],[0.61,-1.2],[0.63,-1.71],[0.59,-1.81],[0.66,-1.9],[0.69,-1.85],[0.72,-1.68],[0.75,-1.49],[0.78,-1.81],[0.83,-1.95],[0.85,-1.68],[0.88,-1.85],[0.92,-1.71],[0.08,-2.09],[0.13,-2.09],[0.16,-2.23],[0.06,-2.23],[0.19,-2.04],[0.23,-2.14],[0.66,-2.18],[0.69,-2.23],[0.86,-2.27],[0.9,-2.09],[0.95,-2.14],[0.82,-2.18],
[0.05,-2.41],[0.07,-2.32],[0.04,-2.69],[0.03,-2.78],[0.08,-2.55],[0.11,-2.55],[0.16,-2.69],[0.17,-2.78],[0.16,-3.1],[0.24,-2.55],[0.23,-2.83],[0.24,-2.96],[0.28,-2.69],[0.3,-2.45],[0.33,-2.32],[0.33,-2.78],[0.36,-3.15],[0.64,-2.6],[0.67,-2.74],[0.7,-2.5],[0.74,-2.6],[0.73,-2.74],[0.77,-2.88],[0.8,-3.01],[0.79,-3.15],[0.81,-3.2],[0.84,-3.2],[0.86,-2.88],[0.87,-3.2],[0.89,-3.15],[0.89,-3.01],[0.93,-3.2],[0.97,-3.1],[0.62,-3.15],[0.65,-3.1],[0.67,-3.06],[0.62,-2.74],[0.59,-2.6],[0.6,-2.36],[0.58,-2.14],[0.6,-1.85],
[0.42,-1.99],[0.44,-2.09],[0.47,-1.95],[0.49,-2.14],[0.52,-2.04],[0.38,-2.23],[0.41,-2.32],[0.43,-2.27],[0.45,-2.36],[0.48,-2.23],[0.5,-2.41],[0.53,-2.32],[0.55,-2.45],[0.36,-2.5],[0.38,-2.6],[0.4,-2.5],[0.42,-2.64],[0.44,-2.55],[0.45,-2.69],[0.47,-2.6],[0.49,-2.74],[0.51,-2.64],[0.53,-2.78],[0.55,-2.69],[0.56,-2.83],[0.35,-2.83],[0.37,-2.93],[0.39,-2.83],[0.41,-2.96],[0.42,-2.88],[0.44,-3.01],[0.46,-2.93],[0.48,-3.06],[0.5,-2.96],[0.52,-3.1],[0.53,-2.96],[0.38,-3.2],[0.41,-3.25],[0.42,-3.22],[0.44,-3.29],[0.46,-3.27],[0.48,-3.29],[0.5,-3.22],[0.51,-3.32],[0.33,-3.1],[0.32,-2.96],[0.55,-3.15],[0.58,-2.93],[0.39,-2.69],[0.47,-2.78],[0.44,-3.1],[0.48,-2.93],
[0.4,-3.0],[0.43,-3.15],[0.45,-3.2],[0.47,-3.05],[0.49,-3.15],[0.45,-2.85],[0.43,-2.45],[0.46,-2.3],[0.4,-2.75],[0.5,-2.8],[0.52,-2.9],[0.42,-3.35],[0.46,-3.35],[0.48,-3.33],[0.44,-3.33],
[0.37,-2.7],[0.39,-3.1],[0.41,-3.15],[0.43,-2.95],[0.45,-3.05],[0.47,-3.2],[0.49,-2.9],[0.51,-3.05],[0.53,-3.2],[0.41,-2.4],[0.44,-2.4],[0.48,-2.5],[0.52,-2.5],[0.46,-2.1],[0.5,-2.2]];
const pts4 = [[0.02,-0.57],[0.04,-0.85],[0.06,-1.13],[0.07,-0.76],[0.1,-0.53],[0.12,-0.94],[0.15,-0.66],[0.17,-1.04],[0.19,-0.48],[0.21,-0.8],[0.22,-0.61],[0.24,-1.13],[0.26,-0.85],[0.28,-0.66],[0.3,-1.04],[0.31,-0.53],[0.33,-0.8],[0.35,-0.94],[0.37,-0.61],[0.39,-1.09],[0.41,-0.76],[0.42,-0.53],[0.44,-0.9],[0.46,-0.66],[0.48,-1.04],[0.5,-0.57],[0.52,-0.85],[0.54,-0.66],[0.56,-1.13],[0.58,-0.85],[0.6,-0.61],[0.63,-0.94],[0.65,-0.76],[0.67,-0.53],[0.69,-0.85],[0.71,-0.44],[0.75,-0.44],[0.79,-0.57],[0.82,-0.39],[0.87,-0.34],[0.92,-0.48],[0.94,-0.48],[0.91,-0.61],[0.89,-0.8],[0.92,-0.76],[0.88,-1.04],[0.86,-1.23],[0.82,-1.5],[0.81,-1.13],[0.79,-1.45],[0.8,-1.73],[0.75,-1.5],[0.73,-0.99],[0.7,-1.42],[0.68,-1.78],[0.73,-2.02],[0.7,-2.24],[0.11,-0.53],[0.16,-0.44],[0.24,-0.48],[0.33,-0.39],[0.41,-0.39],[0.48,-0.44],[0.56,-0.39],[0.63,-0.48],[0.23,-0.3],[0.13,-0.34],[0.06,-0.34],
[0.08,-0.4],[0.14,-0.8],[0.18,-0.6],[0.2,-1.0],[0.23,-0.7],[0.25,-0.4],[0.27,-1.0],[0.29,-0.75],[0.32,-0.6],[0.34,-1.05],[0.36,-0.7],[0.38,-0.4],[0.4,-0.85],[0.43,-0.62],[0.45,-0.95],[0.47,-0.45],[0.49,-0.7],[0.51,-0.6],[0.53,-0.95],[0.55,-0.48],[0.57,-0.75],[0.59,-0.42],[0.62,-0.66],[0.64,-1.0],[0.66,-0.5],[0.18,-0.32],[0.28,-0.35],[0.36,-0.35],[0.44,-0.33],[0.52,-0.36],
[0.03,-0.3],[0.05,-0.5],[0.07,-0.4],[0.09,-0.7],[0.11,-0.95],[0.13,-0.6],[0.15,-0.4],[0.16,-0.9],[0.18,-0.45],[0.2,-0.75],[0.21,-0.35],[0.23,-0.9],[0.25,-0.6],[0.26,-0.3],[0.27,-0.8],[0.29,-0.45],[0.31,-0.7],[0.32,-0.95],[0.34,-0.5],[0.35,-0.3],[0.37,-0.85],[0.38,-0.65],[0.4,-0.45],[0.41,-1.0],[0.43,-0.8],[0.45,-0.45],[0.46,-0.75],[0.49,-0.9],[0.5,-0.35],[0.53,-0.5],[0.55,-0.8],[0.57,-0.35],[0.6,-0.8],[0.62,-0.5],[0.65,-0.35],[0.68,-0.6],[0.72,-0.5],[0.77,-0.4],
[0.04,-0.4],[0.06,-0.65],[0.08,-0.9],[0.1,-0.35],[0.12,-0.65],[0.14,-0.45],[0.17,-0.65],[0.19,-0.85],[0.21,-0.5],[0.24,-0.75],[0.26,-0.55],[0.28,-0.9],[0.3,-0.4],[0.33,-0.55],[0.36,-0.5],[0.39,-0.7],[0.42,-0.85],[0.44,-0.55],[0.47,-0.6],[0.5,-0.75],[0.52,-0.45],[0.54,-0.85],[0.56,-0.55],[0.58,-0.6],[0.61,-0.4],[0.64,-0.6],
[0.05,-1.64],[0.08,-1.73],[0.1,-1.97],[0.13,-2.42],[0.15,-2.19],[0.13,-1.4],[0.17,-1.5],[0.18,-1.73],[0.18,-2.51],[0.19,-2.66],[0.2,-2.8],[0.21,-2.99],[0.19,-2.05],[0.21,-2.24],[0.22,-1.91],[0.23,-2.42],[0.24,-2.61],[0.25,-2.89],[0.25,-3.12],[0.26,-3.26],[0.27,-3.33],[0.28,-3.26],[0.3,-3.16],[0.27,-2.99],[0.29,-2.8],[0.3,-2.94],[0.32,-3.07],[0.31,-2.7],[0.3,-2.51],[0.27,-2.34],[0.26,-2.1],[0.29,-2.05],[0.31,-2.19],[0.33,-1.88],[0.35,-2.15],[0.35,-2.51],[0.37,-2.7],[0.35,-3.03],[0.38,-2.34],[0.39,-1.97],[0.41,-2.24],[0.42,-1.78],[0.44,-2.51],[0.45,-2.1],[0.46,-1.88],[0.28,-1.59],[0.31,-1.5],[0.24,-1.4],[0.36,-1.4],[0.23,-1.69],[0.38,-1.64],[0.27,-1.78],[0.34,-1.69],[0.24,-2.15],[0.25,-2.51],[0.28,-2.66],[0.22,-2.75],[0.27,-2.8],[0.24,-3.07],[0.29,-3.07],[0.3,-3.3],[0.25,-3.3],
[0.26,-3.0],[0.27,-3.2],[0.28,-3.1],[0.29,-3.25],[0.26,-2.85],[0.23,-2.9],
[0.2,-1.6],[0.22,-2.1],[0.24,-1.6],[0.26,-2.3],[0.27,-1.9],[0.29,-2.45],[0.3,-1.8],[0.31,-2.9],[0.32,-2.35],[0.33,-2.7],[0.28,-2.9],[0.21,-2.6],[0.23,-3.1],[0.26,-3.15],[0.28,-3.3],
[0.48,-1.97],[0.5,-2.24],[0.47,-2.51],[0.48,-2.7],[0.51,-2.89],[0.52,-2.61],[0.53,-2.42],[0.54,-2.29],[0.56,-2.42],[0.57,-2.37],[0.58,-2.42],[0.59,-2.37],[0.61,-2.51],[0.62,-2.66],[0.63,-2.8],[0.65,-2.51],[0.67,-2.7],[0.68,-2.34],[0.54,-2.61],[0.56,-2.75],[0.57,-2.61],[0.58,-2.84],[0.59,-2.7],[0.6,-2.89],[0.54,-2.89],[0.55,-3.03],[0.56,-2.94],[0.57,-3.07],[0.59,-3.03],[0.6,-3.12],[0.61,-3.03],[0.56,-3.16],[0.57,-3.23],[0.58,-3.21],[0.59,-3.26],[0.54,-3.12],[0.53,-3.03],[0.62,-2.94],[0.52,-2.75],[0.57,-2.7],[0.6,-2.66],[0.65,-2.15],[0.63,-2.05],[0.67,-1.97],[0.69,-1.88],[0.56,-1.88],[0.58,-1.69],[0.6,-1.59],[0.53,-1.59],[0.51,-1.4],[0.46,-1.4],[0.48,-1.59],[0.62,-1.23],[0.65,-1.4],[0.51,-1.13],[0.44,-1.23],[0.41,-1.13],
[0.57,-2.9],[0.58,-3.1],[0.59,-3.18],[0.6,-2.98],[0.55,-2.8],[0.57,-3.3],[0.62,-2.75],[0.58,-2.6],
[0.52,-2.9],[0.53,-2.5],[0.55,-2.3],[0.55,-3.15],[0.56,-2.6],[0.58,-2.25],[0.59,-2.85],[0.61,-2.8],[0.61,-3.15],[0.62,-2.4],[0.63,-2.6],[0.64,-2.3],[0.5,-2.6],[0.66,-2.4],[0.58,-3.25]];
const pts5 = [[0.02,-0.28],[0.04,-0.55],[0.04,-0.74],[0.06,-0.42],[0.07,-0.93],[0.07,-1.11],[0.09,-0.65],[0.1,-0.84],[0.11,-0.38],[0.12,-0.52],[0.14,-0.74],[0.14,-1.16],[0.15,-0.93],[0.16,-0.55],[0.17,-0.38],[0.18,-0.79],[0.18,-1.11],[0.2,-0.6],[0.2,-0.93],[0.21,-1.3],[0.21,-0.42],[0.22,-0.74],[0.23,-1.06],[0.23,-0.55],[0.24,-0.89],[0.25,-1.2],[0.26,-0.65],[0.26,-0.38],[0.27,-1.03],[0.28,-0.79],[0.29,-1.35],[0.29,-0.55],[0.3,-0.93],[0.31,-1.2],[0.32,-0.42],[0.32,-0.7],[0.33,-1.03],[0.34,-0.55],[0.35,-0.84],[0.37,-1.2],[0.37,-0.42],[0.38,-0.65],[0.4,-0.98],[0.4,-0.47],[0.41,-0.79],[0.43,-1.2],[0.44,-0.6],[0.45,-0.93],[0.46,-0.42],[0.47,-0.74],[0.49,-1.11],[0.5,-0.55],[0.51,-0.38],[0.52,-0.89],[0.54,-0.47],[0.56,-0.28],[0.58,-0.65],[0.6,-0.79],[0.62,-0.93],[0.61,-0.42],[0.64,-0.89],[0.67,-0.42],[0.7,-0.42],[0.75,-0.47],[0.79,-0.7],[0.8,-0.98],[0.85,-0.42],[0.89,-1.2],[0.93,-0.65],[0.95,-1.16],[0.96,-0.28],[0.92,-0.38],[0.73,-0.33],[0.63,-0.33],
[0.03,-0.9],[0.05,-0.3],[0.08,-0.45],[0.1,-1.0],[0.12,-0.85],[0.13,-0.3],[0.16,-1.25],[0.17,-0.62],[0.19,-0.4],[0.2,-1.55],[0.22,-0.3],[0.22,-1.2],[0.24,-0.5],[0.25,-1.35],[0.27,-0.45],[0.28,-1.2],[0.3,-0.35],[0.31,-0.62],[0.32,-1.35],[0.34,-0.8],[0.36,-0.5],[0.38,-0.9],[0.39,-0.3],[0.41,-1.1],[0.42,-0.45],[0.44,-0.75],[0.46,-0.55],[0.48,-0.35],[0.5,-0.75],[0.53,-0.55],[0.26,-1.1],[0.3,-1.25],[0.35,-1.1],[0.19,-1.2],[0.24,-1.55],
[0.03,-0.6],[0.05,-1.2],[0.06,-0.7],[0.08,-0.3],[0.09,-1.05],[0.11,-0.55],[0.12,-1.2],[0.13,-0.65],[0.15,-0.35],[0.16,-0.85],[0.17,-1.05],[0.19,-0.6],[0.2,-0.3],[0.21,-0.95],[0.23,-0.35],[0.24,-0.65],[0.25,-0.85],[0.26,-1.45],[0.27,-0.55],[0.28,-0.35],[0.29,-0.9],[0.3,-1.5],[0.31,-0.45],[0.32,-1.1],[0.33,-0.62],[0.34,-1.3],[0.35,-0.35],[0.36,-0.95],[0.37,-0.6],[0.38,-1.4],[0.39,-0.75],[0.4,-1.1],[0.42,-0.65],[0.43,-0.35],[0.45,-1.05],[0.46,-0.7],[0.48,-0.55],[0.49,-0.3],[0.51,-0.6],[0.52,-1.0],[0.55,-0.7],[0.57,-0.4],
[0.04,-0.4],[0.05,-0.85],[0.07,-0.6],[0.08,-1.3],[0.1,-0.45],[0.11,-0.9],[0.13,-1.35],[0.14,-0.45],[0.15,-1.1],[0.16,-0.7],[0.18,-0.5],[0.19,-0.85],[0.2,-1.05],[0.21,-0.55],[0.22,-0.9],[0.23,-1.3],[0.24,-0.4],[0.25,-0.7],[0.26,-0.95],[0.27,-1.25],[0.28,-0.6],[0.29,-1.05],[0.3,-0.7],[0.31,-0.85],[0.32,-0.5],[0.33,-1.2],[0.34,-0.4],[0.35,-0.6],[0.36,-1.25],[0.37,-0.8],[0.38,-0.4],[0.39,-1.05],[0.41,-0.55],[0.42,-0.9],[0.44,-0.4],[0.45,-0.65],[0.47,-0.95],[0.48,-0.45],[0.5,-0.9],[0.52,-0.45],
[0.08,-1.39],[0.11,-1.68],[0.15,-1.76],[0.17,-1.53],[0.18,-1.9],[0.2,-1.39],[0.21,-2.09],[0.23,-1.68],[0.28,-1.58],[0.33,-1.68],[0.36,-1.44],[0.39,-1.68],[0.41,-1.85],[0.42,-1.58],[0.44,-1.44],[0.46,-1.71],[0.47,-1.35],[0.52,-1.71],[0.53,-1.44],[0.54,-1.68],[0.58,-1.81],[0.62,-1.44],[0.64,-1.95],[0.66,-1.58],[0.76,-1.44],[0.86,-1.53],[0.85,-2.04],[0.9,-2.23],[0.72,-1.76],[0.03,-1.71],[0.14,-2.23],[0.21,-2.41],[0.23,-2.36],
[0.58,-2.41],[0.59,-2.6],[0.63,-2.5],[0.63,-2.64],[0.7,-2.5],[0.72,-2.64],[0.78,-2.27],[0.79,-2.41],[0.8,-2.55],[0.81,-2.69],[0.81,-2.88],[0.78,-2.83],[0.89,-2.45],[0.91,-2.6],[0.95,-2.78],[0.68,-2.93],[0.66,-3.01],[0.6,-2.93],[0.57,-3.06],[0.52,-2.69],[0.55,-2.67],[0.49,-2.69],[0.46,-2.69],[0.47,-3.06],[0.42,-2.96],[0.39,-2.78],
[0.04,-2.27],[0.05,-2.78],[0.04,-3.01],[0.06,-2.69],[0.09,-2.74],[0.08,-3.01],[0.06,-3.2],[0.09,-3.2],[0.12,-3.01],[0.12,-3.2],[0.14,-2.78],[0.15,-2.69],[0.16,-3.15],[0.18,-3.15],[0.23,-3.2],[0.13,-2.88],
[0.24,-1.71],[0.26,-1.85],[0.27,-2.04],[0.28,-1.95],[0.29,-1.76],[0.3,-1.9],[0.32,-2.09],[0.33,-1.95],[0.34,-1.81],[0.35,-1.99],[0.37,-2.18],[0.38,-1.95],[0.24,-2.14],[0.25,-2.32],[0.26,-2.45],[0.27,-2.27],[0.29,-2.41],[0.3,-2.23],[0.31,-2.36],[0.32,-2.5],[0.34,-2.32],[0.35,-2.45],[0.36,-2.27],[0.37,-2.5],[0.25,-2.6],[0.27,-2.69],[0.28,-2.55],[0.29,-2.74],[0.3,-2.6],[0.32,-2.78],[0.33,-2.64],[0.34,-2.83],[0.35,-2.69],[0.26,-2.88],[0.27,-2.96],[0.29,-2.93],[0.3,-3.01],[0.31,-2.93],[0.32,-3.06],[0.33,-2.96],[0.28,-3.1],[0.29,-3.2],[0.3,-3.25],[0.32,-3.29],[0.33,-3.2],[0.3,-3.32],[0.31,-3.34],[0.29,-3.29],[0.32,-3.15],[0.27,-3.1],[0.24,-2.5],[0.38,-2.36],[0.38,-2.69],[0.23,-1.9],
[0.28,-2.85],[0.3,-2.95],[0.31,-3.1],[0.29,-3.0],[0.3,-3.18],[0.31,-3.25],[0.28,-2.4],[0.31,-2.7],[0.26,-2.2],[0.33,-2.0],[0.3,-2.45],[0.32,-2.95],
[0.25,-1.7],[0.26,-2.0],[0.27,-2.4],[0.28,-2.2],[0.29,-1.6],[0.3,-2.1],[0.31,-1.75],[0.32,-2.3],[0.33,-2.8],[0.34,-2.15],[0.35,-2.55],[0.36,-2.1],[0.29,-2.6],[0.3,-2.85],[0.32,-3.2],[0.28,-3.25],[0.31,-3.3],[0.33,-3.05]];
const pts6 = [[0.02,-0.28],[0.04,-0.55],[0.05,-0.42],[0.08,-0.7],[0.09,-0.42],[0.12,-0.52],[0.14,-0.33],[0.17,-0.47],[0.2,-0.38],[0.21,-0.74],[0.24,-0.55],[0.27,-0.42],[0.27,-0.93],[0.3,-0.7],[0.32,-0.84],[0.33,-0.52],[0.35,-0.6],[0.36,-0.79],[0.39,-0.38],[0.43,-0.47],[0.44,-0.6],[0.46,-0.93],[0.48,-1.03],[0.49,-0.79],[0.51,-0.6],[0.53,-0.42],[0.54,-0.74],[0.56,-1.06],[0.57,-0.55],[0.58,-0.84],[0.6,-1.2],[0.6,-0.47],[0.62,-0.7],[0.63,-1.39],[0.64,-1.03],[0.65,-0.55],[0.66,-0.84],[0.67,-1.25],[0.68,-0.42],[0.69,-0.74],[0.7,-1.06],[0.71,-0.6],[0.73,-0.89],[0.74,-0.47],[0.75,-1.2],[0.76,-0.7],[0.77,-1.03],[0.78,-0.52],[0.8,-0.84],[0.81,-1.11],[0.82,-0.65],[0.83,-1.35],[0.84,-0.42],[0.86,-0.93],[0.87,-0.6],[0.89,-0.79],[0.9,-0.47],[0.92,-0.93],[0.93,-0.65],[0.95,-1.49],[0.96,-0.52],[0.97,-1.2],[0.86,-1.81],[0.89,-1.81],[0.88,-1.99],[0.83,-2.04],[0.82,-1.63],[0.78,-1.71],[0.76,-1.53],[0.5,-0.28],[0.71,-0.28],[0.39,-0.28],[0.29,-0.28],[0.1,-0.28],[0.91,-0.28],
[0.46,-0.4],[0.5,-0.85],[0.52,-0.32],[0.55,-0.5],[0.57,-1.2],[0.59,-0.3],[0.61,-0.85],[0.63,-0.35],[0.65,-1.1],[0.67,-0.6],[0.69,-0.33],[0.71,-1.2],[0.72,-0.4],[0.74,-0.62],[0.77,-0.35],[0.79,-1.0],[0.81,-0.4],[0.84,-0.75],[0.86,-0.35],[0.88,-0.5],[0.92,-0.35],[0.07,-0.3],[0.16,-0.6],[0.23,-0.35],[0.31,-0.4],[0.37,-0.45],[0.41,-0.6],
[0.03,-0.35],[0.06,-0.5],[0.09,-0.3],[0.13,-0.4],[0.18,-0.3],[0.22,-0.45],[0.26,-0.3],[0.3,-0.35],[0.34,-0.3],[0.4,-0.4],[0.45,-0.55],[0.47,-0.3],[0.49,-0.6],[0.51,-0.35],[0.53,-0.65],[0.55,-0.35],[0.56,-0.7],[0.58,-0.4],[0.6,-0.65],[0.62,-0.45],[0.64,-0.7],[0.66,-0.35],[0.68,-0.9],[0.7,-0.5],[0.72,-0.75],[0.73,-0.3],[0.75,-0.55],[0.77,-0.7],[0.79,-0.4],[0.82,-0.85],[0.85,-0.55],[0.87,-0.4],[0.9,-0.65],[0.94,-0.4],[0.97,-0.35],
[0.04,-1.35],[0.07,-2.04],[0.03,-1.9],[0.04,-2.36],[0.07,-2.45],[0.1,-2.55],[0.12,-2.23],[0.13,-1.81],[0.14,-2.41],[0.16,-2.18],[0.18,-1.71],[0.19,-1.53],[0.21,-1.49],[0.25,-1.35],[0.12,-1.2],[0.15,-1.2],[0.11,-1.63],[0.34,-1.39],[0.38,-1.25],[0.41,-1.49],[0.29,-1.11],[0.38,-1.11],
[0.02,-2.55],[0.03,-2.74],[0.04,-2.88],[0.05,-3.01],[0.07,-2.83],[0.08,-2.96],[0.09,-2.69],[0.1,-2.83],[0.05,-3.15],[0.07,-3.2],[0.04,-3.22],[0.09,-3.1],[0.1,-3.01],[0.06,-3.06],[0.05,-3.25],[0.08,-3.2],[0.03,-3.1],[0.06,-2.9],
[0.5,-1.95],[0.52,-1.71],[0.54,-1.71],[0.57,-1.95],[0.58,-2.18],[0.57,-2.41],[0.57,-2.6],[0.57,-2.93],[0.59,-2.5],[0.6,-2.74],[0.6,-2.09],[0.61,-2.27],[0.62,-1.85],[0.63,-2.5],[0.63,-2.74],[0.64,-2.04],[0.64,-2.36],[0.65,-1.9],[0.66,-2.6],[0.66,-2.88],[0.67,-2.23],[0.67,-2.45],[0.68,-1.99],[0.69,-2.69],[0.69,-3.01],[0.7,-2.32],[0.7,-1.68],[0.71,-2.55],[0.72,-2.14],[0.72,-2.83],[0.74,-2.41],[0.74,-1.95],[0.75,-2.23],[0.76,-2.5],[0.78,-2.18],[0.79,-1.95],[0.6,-3.1],[0.61,-3.2],[0.63,-3.25],[0.64,-3.15],[0.65,-3.25],[0.66,-3.32],[0.67,-3.22],[0.69,-3.15],[0.7,-3.25],[0.66,-3.06],[0.63,-2.96],[0.67,-2.96],[0.59,-2.96],[0.61,-2.88],[0.64,-2.83],[0.7,-2.83],[0.69,-2.5],[0.66,-1.81],[0.64,-1.63],[0.69,-1.49],[0.59,-1.71],[0.55,-1.58],[0.53,-2.04],[0.55,-2.23],[0.75,-1.58],[0.72,-1.71],[0.61,-1.44],[0.66,-1.44],
[0.62,-3.0],[0.64,-3.25],[0.65,-3.05],[0.67,-3.3],[0.68,-2.8],[0.66,-3.15],[0.63,-2.85],[0.65,-2.65],[0.62,-2.35],[0.68,-2.35],[0.6,-2.55],[0.71,-2.95],
[0.55,-2.0],[0.56,-2.4],[0.58,-2.6],[0.59,-2.3],[0.6,-1.95],[0.61,-2.6],[0.62,-2.15],[0.63,-1.9],[0.65,-2.15],[0.66,-2.4],[0.67,-2.7],[0.68,-2.2],[0.7,-2.1],[0.71,-2.35],[0.72,-2.6],[0.73,-2.2],[0.68,-3.05],[0.7,-3.0],[0.64,-3.05],[0.62,-3.15]];

// ---------- assemble ----------
const colsL = [colL1,colL2,colL3,colL4,colL5,colL6];
const colsR = [colR1,colR2,colR3,colR4,colR5,colR6];
const bands = [band1,band2,band3,band4,band5,band6];
const ptsAll = [pts1,pts2,pts3,pts4,pts5,pts6];
const hists = [h1,h2,h3,h4,h5,h6];
const rgb = {medium:'0,0,255', maximal:'50,205,50', minimal:'191,191,0'};

const W = 1233, H = 675;
const colPx = [[89,393],[469,772],[848,1150]];
const rowPx = [[79,293],[343.5,558]];
const font = 'DejaVu Sans, Liberation Sans, sans-serif';
const fRange = [-5.78, 0.166];

const data = [];
const layout = {
  width: W, height: H, margin: {l:0, r:0, t:0, b:0},
  paper_bgcolor: '#fff', plot_bgcolor: 'rgba(0,0,0,0)',
  showlegend: false,
  font: {family: font, size: 18, color: '#000'},
  title: {text: chartTitle, font: {family: font, size: 31, color:'#000'}, x: 0.5, xanchor: 'center', y: 1 - 21/H, yanchor: 'middle', yref: 'container'},
  shapes: [], annotations: []
};

for (let i = 0; i < 6; i++) {
  const n = i + 1, row = Math.floor(i / 3), col = i % 3;
  const c = rgb[influence[i]];
  const xs = [], ys = [];
  colsL[i].forEach(v => { xs.push(0); ys.push(v); });
  colsR[i].forEach(v => { xs.push(1); ys.push(v); });
  bands[i].concat(ptsAll[i]).forEach(p => { xs.push(p[0]); ys.push(p[1]); });
  const hx = hists[i].map((_, k) => (k + 0.5) / hists[i].length);
  data.push({
    type: 'bar', x: hx, y: hists[i], width: 1 / hists[i].length,
    xaxis: 'x' + n, yaxis: 'y' + (n + 6), name: influence[i] + ' influence',
    marker: {color: 'rgba(' + c + ',0.5)', line: {width: 0}}, hoverinfo: 'skip'
  });
  data.push({
    type: 'scatter', mode: 'markers', x: xs, y: ys, name: 'x' + dimLabels[i],
    xaxis: 'x' + n, yaxis: 'y' + n, cliponaxis: false,
    marker: {size: 5, color: 'rgba(' + c + ',0.4)', line: {width: 1.1, color: 'rgba(' + c + ',0.45)'}}
  });
  const xd = [colPx[col][0] / W, colPx[col][1] / W];
  const yd = [1 - rowPx[row][1] / H, 1 - rowPx[row][0] / H];
  const common = {showgrid: false, zeroline: false, ticks: 'outside', ticklen: 6, tickwidth: 1.2, tickcolor: '#000',
                  tickfont: {family: font, size: 18, color: '#000'}};
  layout['xaxis' + n] = Object.assign({}, common, {
    domain: xd, anchor: 'y' + n, range: [-0.05, 1.05],
    tickvals: [0, 0.5, 1], ticktext: ['0.0', '0.5', '1.0'], showticklabels: row === 1,
    showline: true, linecolor: '#000', linewidth: 1.2, mirror: true,
    title: {text: '<i>x</i><sub>' + dimLabels[i] + '</sub>', font: {family: font, size: 20, color: '#000'}, standoff: row === 1 ? 14 : 4}
  });
  const yPrim = Object.assign({}, common, {
    domain: yd, anchor: 'x' + n, range: fRange,
    tickvals: fTicks, ticktext: fTicks.map(v => v < 0 ? '\u2212' + Math.abs(v) : String(v)), showticklabels: col === 0,
    showline: true, linecolor: '#000', linewidth: 1.2, mirror: true
  });
  if (col === 0) yPrim.title = {text: '<i>f</i>(<i>x</i>)', font: {family: font, size: 20, color: '#000'}, standoff: 20};
  layout['yaxis' + n] = yPrim;
  const hmax = Math.max.apply(null, hists[i]);
  const ySec = Object.assign({}, common, {
    overlaying: 'y' + n, side: 'right', anchor: 'x' + n, range: [0, 3.15 * hmax],
    tickvals: histTicks[i], showline: false
  });
  if (col === 2) ySec.title = {text: '<i>n</i><sub><i>samples</i></sub>', font: {family: font, size: 20, color: '#000'}, standoff: 22};
  layout['yaxis' + (n + 6)] = ySec;
}

// legend drawn as colour patches + labels
const legendColors = [rgb.medium, rgb.maximal, rgb.minimal];
const legendPatchX = [180, 485, 795];
legendNames.forEach((name, k) => {
  layout.shapes.push({type: 'rect', xref: 'paper', yref: 'paper',
    x0: legendPatchX[k] / W, x1: (legendPatchX[k] + 48) / W, y0: 1 - 669 / H, y1: 1 - 651 / H,
    fillcolor: 'rgb(' + legendColors[k] + ')', line: {width: 0}});
  layout.annotations.push({xref: 'paper', yref: 'paper', x: (legendPatchX[k] + 62) / W, y: 1 - 660 / H,
    xanchor: 'left', yanchor: 'middle', showarrow: false, text: name,
    font: {family: font, size: 22, color: '#000'}});
});

Plotly.newPlot('chart', data, layout, {displayModeBar: false, staticPlot: true});
</script>
</body></html>
